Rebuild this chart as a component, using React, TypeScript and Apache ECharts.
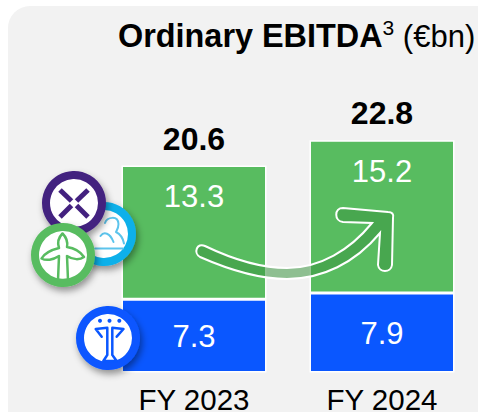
import React, { useEffect, useRef } from "react";
import * as echarts from "echarts";

const categories = ["FY 2023", "FY 2024"];
const baseValues = [7.3, 7.9];
const growthValues = [13.3, 15.2];
const totals = [20.6, 22.8];

const FONT = '"Liberation Sans", Arial, sans-serif';
const GREEN = "#58bc60";
const BLUE = "#0a57ff";
const PURPLE = "#43217f";
const CYAN = "#0fb0ea";

const arrowD =
  "M205 246 C230 258 258 268 287 268 C320 268 350 250 372 223 L343 222 C334 221 334 208 343 208 L388 212 C392 212 394 214 393 218 L392 265 C391 273 379 273 378 265 L380 233 C355 263 322 279 287 279 C255 279 225 268 200 257 C193 253 197 242 205 246 Z";
const turbineD =
  "M58 280 L59 256 C53 260 46 261 41.5 258.5 C44 254 51 250 59 248 C57 242 59 237 62.5 233.5 C66 237 68 242 67 247 C74 248 80 251 84 257 C80 260 73 260 67 256 L68 280 Z";
const peopleD =
  "M105 223 C107 217 118 215 118.5 224 C118.5 228 117 230 116 232 C120 234 123 238 124 243.5 M100.5 236 C104 231 110 233 113.5 242 M95 248.5 L123 248.5";
const figureD =
  "M107.3 355 L107.3 327.7 L95.7 329 L101.7 336.7 M112.3 355 L112.3 327.7 L123.5 329 L116.7 336.7 M107.3 355 L103.3 361 L116.7 361 L112.3 355";

echarts.graphic.registerShape("ebitdaArrow", echarts.graphic.extendPath(arrowD, {}));
echarts.graphic.registerShape("turbineIcon", echarts.graphic.extendPath(turbineD, {}));
echarts.graphic.registerShape("peopleIcon", echarts.graphic.extendPath(peopleD, {}));
echarts.graphic.registerShape("figureIcon", echarts.graphic.extendPath(figureD, {}));

const shadow = { shadowBlur: 7, shadowOffsetX: 2, shadowOffsetY: 4, shadowColor: "rgba(0,0,0,0.4)" };
const badge = (cx: number, cy: number, color: string, z: number) => ({
  type: "circle",
  z,
  shape: { cx, cy, r: 28 },
  style: { fill: "#fff", stroke: color, lineWidth: 8, ...shadow },
});
const glyph = (type: string, color: string, z: number, lineWidth = 2.5) => ({
  type,
  z,
  x: 0,
  y: 0,
  style: { fill: "none", stroke: color, lineWidth, lineJoin: "round", lineCap: "round" },
});
const seg = (x1: number, y1: number, x2: number, y2: number, z: number) => ({
  type: "line",
  z,
  shape: { x1, y1, x2, y2 },
  style: { stroke: PURPLE, lineWidth: 5, lineCap: "butt" },
});
const dot = (cx: number, cy: number, color: string, r: number, z: number) => ({
  type: "circle",
  z,
  shape: { cx, cy, r },
  style: { fill: color },
});

export default function App() {
  const ref = useRef<HTMLDivElement>(null);
  useEffect(() => {
    const chart = echarts.init(ref.current!, undefined, { renderer: "svg" });
    chart.setOption({
      animation: false,
      backgroundColor: "#ffffff",
      title: {
        text: "{b|Ordinary EBITDA}{s|3}{n| (€bn)}",
        left: 118,
        top: 17,
        padding: 0,
        textStyle: {
          fontWeight: "normal",
          rich: {
            b: { fontFamily: FONT, fontSize: 32.4, fontWeight: "bold", color: "#000", lineHeight: 38 },
            s: { fontFamily: FONT, fontSize: 21, fontWeight: "normal", color: "#000", verticalAlign: "top", lineHeight: 30 },
            n: { fontFamily: FONT, fontSize: 31, fontWeight: "normal", color: "#000", lineHeight: 38 },
          },
        },
      },
      grid: { left: 100, right: 2, top: 71, bottom: 39.5, containLabel: false, outerBoundsMode: "none" },
      xAxis: {
        type: "category",
        data: categories,
        axisLine: { show: false },
        axisTick: { show: false },
        axisLabel: { color: "#000", fontFamily: FONT, fontSize: 29.5, lineHeight: 26, margin: 13.5 },
      },
      yAxis: { type: "value", min: 0, max: 30, show: false, splitLine: { show: false } },
      series: [
        {
          type: "bar",
          stack: "total",
          data: baseValues,
          barWidth: 145,
          itemStyle: { color: BLUE, borderColor: "#fff", borderWidth: 1.5 },
          label: { show: true, position: "inside", offset: [0, 1], color: "#fff", fontFamily: FONT, fontSize: 31 },
        },
        {
          type: "bar",
          stack: "total",
          data: growthValues,
          barWidth: 145,
          itemStyle: { color: GREEN, borderColor: "#fff", borderWidth: 1.5 },
          label: { show: true, position: "insideTop", distance: 16, color: "#fff", fontFamily: FONT, fontSize: 31 },
        },
        {
          type: "line",
          data: [
            { value: totals[0], label: { distance: 9.5 } },
            { value: totals[1], label: { distance: 14 } },
          ],
          symbol: "circle",
          symbolSize: 1,
          showAllSymbol: true,
          itemStyle: { color: "transparent" },
          lineStyle: { width: 0, color: "transparent" },
          label: {
            show: true,
            position: "top",
            distance: 10,
            color: "#000",
            fontFamily: FONT,
            fontSize: 32,
            fontWeight: "bold",
            formatter: (p: any) => Number(p.value).toFixed(1),
          },
        },
      ],
      graphic: [
        {
          type: "rect",
          z: -1,
          silent: true,
          shape: { x: 8, y: 6, width: 520, height: 460, r: 22 },
          style: { fill: "#f2f2f2" },
        },
        {
          type: "ebitdaArrow",
          z: 20,
          x: 0,
          y: 0,
          style: { fill: "rgba(60,150,65,0.55)", stroke: "#fff", lineWidth: 2 },
        },
        badge(104, 234, CYAN, 30),
        glyph("peopleIcon", "#5cc4ec", 31, 2),
        badge(74, 203, PURPLE, 32),
        seg(60, 190, 71.5, 201, 33),
        seg(76.5, 205.5, 88, 217, 33),
        seg(88, 190, 76.5, 201, 33),
        seg(71.5, 205.5, 60, 217, 33),
        badge(63, 255, GREEN, 34),
        glyph("turbineIcon", GREEN, 35),
        badge(108, 338, BLUE, 36),
        glyph("figureIcon", BLUE, 37),
        dot(100, 320.7, BLUE, 2, 37),
        dot(109.5, 320.7, BLUE, 2, 37),
        dot(119.3, 320.7, BLUE, 2, 37),
      ],
    });
    return () => chart.dispose();
  }, []);
  return <div ref={ref} style={{ position: "absolute", left: 0, top: 0, width: 478, height: 412 }} />;
}
